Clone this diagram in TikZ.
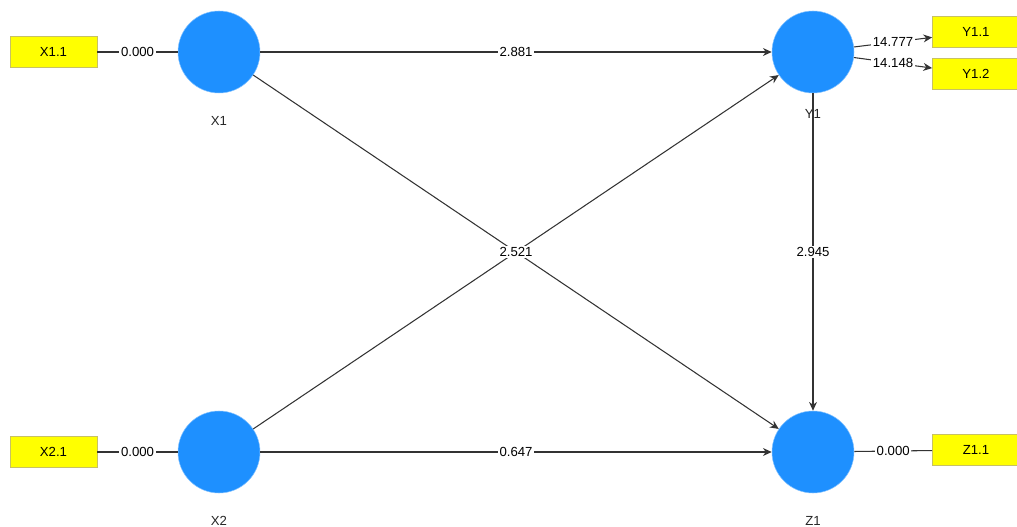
\documentclass[tikz,border=0pt]{standalone}
\usepackage{fontspec}
\setmainfont{Liberation Sans}
\usepackage{tikz}
\usetikzlibrary{arrows.meta}
\definecolor{latentblue}{RGB}{30,144,255}
\definecolor{itemyellow}{RGB}{255,255,0}
\tikzstyle{latent} = [circle, minimum size = 1.64cm, inner sep = 0pt,
  fill = latentblue, draw = latentblue!55, line width = 0.3pt]
\tikzstyle{caption} = [label distance = 0.33cm, text = black!85]
\tikzstyle{indicator} = [rectangle, minimum width = 1.74cm, minimum height =
  0.62cm, text centered, draw = olive!50, fill = itemyellow]
\tikzstyle{link} = [line width = 0.6pt, draw = black!80]
\tikzstyle{arrow} = [link, ->, >={Stealth[length = 5pt, width = 4.5pt]}]
\tikzstyle{coef} = [fill = white, inner sep = 1pt]

\begin{document}
\begin{tikzpicture}[node distance = 2cm, font = \fontsize{7.5}{9}\selectfont]
  \useasboundingbox (-4.38, 1.04) rectangle (15.96, -9.5);

  \node (X1) [latent, label = {[caption]below:X1}] {};
  \node (Y1) [latent, right of = X1, node distance = 11.88cm,
    label = {[caption, label distance = 0.2cm]below:Y1}] {};
  \node (X2) [latent, below of = X1, node distance = 8cm,
    label = {[caption]below:X2}] {};
  \node (Z1) [latent, below of = Y1, node distance = 8cm,
    label = {[caption]below:Z1}] {};

  \node (X1-1) [indicator, left of = X1, node distance = 3.31cm] {X1.1};
  \node (X2-1) [indicator, left of = X2, node distance = 3.31cm] {X2.1};
  \node (Y1-1) [indicator, right of = Y1, node distance = 3.26cm, yshift = 0.4cm] {Y1.1};
  \node (Y1-2) [indicator, right of = Y1, node distance = 3.26cm, yshift = -0.44cm] {Y1.2};
  \node (Z1-1) [indicator, right of = Z1, node distance = 3.26cm, yshift = 0.04cm] {Z1.1};

  \draw [link] (X1-1) -- node[coef] {0.000} (X1);
  \draw [link] (X2-1) -- node[coef] {0.000} (X2);
  \draw [link] (Z1) -- node[coef] {0.000} (Z1-1);
  \draw [arrow] (Y1) -- node[coef] {14.777} (Y1-1);
  \draw [arrow] (Y1) -- node[coef] {14.148} (Y1-2);

  \draw [arrow] (X1) -- node[coef] {2.881} (Y1);
  \draw [arrow] (X2) -- node[coef] {0.647} (Z1);
  \draw [arrow] (Y1) -- node[coef] {2.945} (Z1);
  \draw [arrow] (X2) -- (Y1);
  \draw [arrow] (X1) -- node[coef] {2.521} (Z1);
\end{tikzpicture}
\end{document}
